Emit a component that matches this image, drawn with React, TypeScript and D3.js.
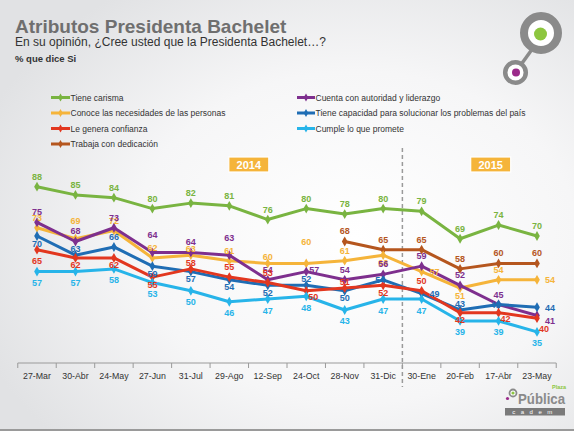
import React from 'react';
import * as d3 from 'd3';

const categories = ['27-Mar','30-Abr','24-May','27-Jun','31-Jul','29-Ago','12-Sep','24-Oct','28-Nov','31-Dic','30-Ene','20-Feb','17-Abr','23-May'];
const tieneCarisma = [88,85,84,80,82,81,76,80,78,80,79,69,74,70];
const cuentaAutoridad = [75,68,73,64,64,63,54,57,54,56,59,52,45,41];
const conoceNecesidades = [73,69,72,62,63,61,60,60,61,63,57,51,54,54];
const tieneCapacidad = [70,63,66,59,57,54,52,52,50,54,49,43,45,44];
const leGeneraConfianza = [65,62,62,55,58,55,53,50,51,52,50,42,42,40];
const trabajaDedicacion: (number|null)[] = [null,null,null,null,null,null,null,null,68,65,65,58,60,60];
const cumpleLoQuePromete = [57,57,58,53,50,46,47,48,43,47,47,39,39,35];

const seriesNames = ['Tiene carisma','Conoce las necesidades de las personas','Le genera confianza','Trabaja con dedicación','Cuenta con autoridad y liderazgo','Tiene capacidad para solucionar los problemas del país','Cumple lo que promete'];
const yearLabels = ['2014','2015'];

// label placement codes per point (presentation only)
const placeGreen  = 'aaaaaaaaaaaaaa';
const placePurple = 'aaaAaAauaaaaaR';
const placeYellow = 'aAaavavHaBrBar';
const placeBlue   = 'BvaBBBBvBcrvcr';
const placeRed    = 'bBBBvaawvBaBwx';
const placeBrown  = 'aaaaaaaaaaaaaa';
const placeCyan   = 'bbbbbbbbbbbbbb';

const W = 574, H = 431;
const FONT = '"Liberation Sans", Arial, Helvetica, sans-serif';

const offsets: Record<string, [number, number, string]> = {
  a: [0, -7, 'middle'],
  A: [0, -14.5, 'middle'],
  H: [0, -18.5, 'middle'],
  v: [0, -3, 'middle'],
  b: [0, 14.5, 'middle'],
  B: [0, 10.5, 'middle'],
  r: [8, 3.5, 'start'],
  R: [8, 8.5, 'start'],
  u: [8, 1.5, 'middle'],
  w: [7, 9.5, 'middle'],
  x: [7, 14, 'middle'],
  c: [-3, 3.5, 'middle'],
};

export default function App() {
  const x = d3.scalePoint<string>().domain(categories).range([37, 537]);
  const step = x.step();
  const y = d3.scaleLinear().domain([25, 100]).range([359.3, 153.8]);

  const series = [
    { name: seriesNames[0], color: '#79b441', values: tieneCarisma, place: placeGreen },
    { name: seriesNames[3], color: '#b5561e', values: trabajaDedicacion, place: placeBrown },
    { name: seriesNames[1], color: '#f5b43a', values: conoceNecesidades, place: placeYellow },
    { name: seriesNames[4], color: '#7e2f8e', values: cuentaAutoridad, place: placePurple },
    { name: seriesNames[5], color: '#1f6db4', values: tieneCapacidad, place: placeBlue },
    { name: seriesNames[2], color: '#e2371f', values: leGeneraConfianza, place: placeRed },
    { name: seriesNames[6], color: '#27b4e9', values: cumpleLoQuePromete, place: placeCyan },
  ];
  const colorOf = (n: string) => series.find(s => s.name === n)!.color;

  const line = d3.line<number | null>()
    .defined(d => d !== null)
    .x((_, i) => x(categories[i])!)
    .y(d => y(d as number));

  const diamond = d3.symbol().type(d3.symbolDiamond).size(28)()!;

  const legendCol1 = [seriesNames[0], seriesNames[1], seriesNames[2], seriesNames[3]];
  const legendCol2 = [seriesNames[4], seriesNames[5], seriesNames[6]];
  const legendRows = [97.5, 113, 128.5, 144];

  const boundaries = d3.range(categories.length + 1).map(i => x(categories[0])! - step / 2 + i * step);
  const axisY = 363;
  const splitX = (x(categories[9])! + x(categories[10])!) / 2;

  return (
    <div style={{ position: 'absolute', left: 0, top: 0 }}>
      <svg width={W} height={H} style={{ display: 'block', fontFamily: FONT }}>
        <defs>
          <radialGradient id="bg" cx="62%" cy="55%" r="70%">
            <stop offset="0%" stopColor="#ffffff" />
            <stop offset="55%" stopColor="#f6f6f7" />
            <stop offset="100%" stopColor="#e1e2e4" />
          </radialGradient>
        </defs>
        <rect x={0} y={0} width={W} height={H} fill="url(#bg)" />
        <rect x={0} y={429} width={W} height={2} fill="#9a9a9a" />

        {/* titles */}
        <text x={15} y={33} fontSize={19} fontWeight="bold" fill="#6f6f6f">Atributos Presidenta Bachelet</text>
        <text x={15} y={46} fontSize={12} fill="#333">En su opinión, ¿Cree usted que la Presidenta Bachelet…?</text>
        <text x={15} y={61.5} fontSize={9.5} fontWeight="bold" fill="#333">% que dice Si</text>

        {/* top-right logo */}
        <line x1={520} y1={66} x2={533} y2={48} stroke="#8a8a8a" strokeWidth={3.5} />
        <circle cx={541} cy={33} r={17} fill="#fff" stroke="#8a8a8a" strokeWidth={8} />
        <circle cx={540.5} cy={34} r={6.5} fill="#8dc63f" />
        <circle cx={515.5} cy={72.5} r={10.3} fill="#fff" stroke="#8a8a8a" strokeWidth={4.5} />
        <circle cx={516} cy={72.5} r={4} fill="#9b2a8a" />

        {/* legend */}
        {legendCol1.map((n, i) => (
          <g key={n} transform={`translate(51,${legendRows[i]})`}>
            <line x1={0} x2={19} y1={0} y2={0} stroke={colorOf(n)} strokeWidth={3} />
            <path d={diamond} transform="translate(9.5,0) scale(0.8)" fill={colorOf(n)} />
            <text x={19.5} y={3} fontSize={8.5} fill="#333">{n}</text>
          </g>
        ))}
        {legendCol2.map((n, i) => (
          <g key={n} transform={`translate(297,${legendRows[i]})`}>
            <line x1={0} x2={18} y1={0} y2={0} stroke={colorOf(n)} strokeWidth={3} />
            <path d={diamond} transform="translate(9,0) scale(0.8)" fill={colorOf(n)} />
            <text x={18.5} y={3} fontSize={8.5} fill="#333">{n}</text>
          </g>
        ))}

        {/* year boxes */}
        {[[248.8, yearLabels[0]], [490.7, yearLabels[1]]].map(([cx, t]) => (
          <g key={t as string}>
            <rect x={(cx as number) - 20} y={157} width={40} height={15} fill="#f5b43a" stroke="#fff" strokeWidth={1.2} />
            <text x={cx as number} y={168.5} textAnchor="middle" fontSize={11} fontWeight="bold" fill="#fff">{t}</text>
          </g>
        ))}

        {/* split line */}
        <line x1={splitX} x2={splitX} y1={148} y2={387} stroke="#9a9a9a" strokeWidth={1.5} strokeDasharray="4,3" />

        {/* axis */}
        <line x1={boundaries[0]} x2={boundaries[boundaries.length - 1]} y1={axisY} y2={axisY} stroke="#9a9a9a" strokeWidth={1} />
        {boundaries.map((b, i) => (
          <line key={i} x1={b} x2={b} y1={axisY} y2={axisY + 5} stroke="#9a9a9a" strokeWidth={1} />
        ))}
        {categories.map(c => (
          <text key={c} x={x(c)!} y={379} textAnchor="middle" fontSize={8.8} fill="#333">{c}</text>
        ))}

        {/* lines */}
        {series.map(s => (
          <g key={s.name}>
            <path d={line(s.values)!} fill="none" stroke={s.color} strokeWidth={3} strokeLinejoin="round" />
            {s.values.map((v, i) => v === null ? null : (
              <path key={i} d={diamond} transform={`translate(${x(categories[i])},${y(v)})`} fill={s.color} />
            ))}
          </g>
        ))}

        {/* value labels */}
        {series.map(s => (
          <g key={s.name + 'l'}>
            {s.values.map((v, i) => {
              if (v === null) return null;
              const [dx, dy, anchor] = offsets[s.place[i]];
              return (
                <text key={i} x={x(categories[i])! + dx} y={y(v) + dy} textAnchor={anchor as any}
                  fontSize={9} fontWeight="bold" fill={s.color}>{v}</text>
              );
            })}
          </g>
        ))}

        {/* bottom-right logo */}
        <circle cx={513} cy={393} r={3.5} fill="#fff" stroke="#8a8a8a" strokeWidth={1.8} />
        <circle cx={513} cy={393} r={1.6} fill="#8dc63f" />
        <circle cx={507.5} cy={398.5} r={1.6} fill="#9b2a8a" />
        <text x={518} y={403.5} fontSize={14} fontWeight="bold" fill="#8a8a8a" textLength={47} lengthAdjust="spacingAndGlyphs">Pública</text>
        <text x={552} y={389} fontSize={5.5} fontWeight="bold" fill="#8dc63f">Plaza</text>
        <rect x={505} y={408} width={60} height={7.5} fill="#7a7a7a" />
        <text x={535} y={414} textAnchor="middle" fontSize={6} fill="#fff" letterSpacing={5.5}>cadem</text>
      </svg>
    </div>
  );
}
